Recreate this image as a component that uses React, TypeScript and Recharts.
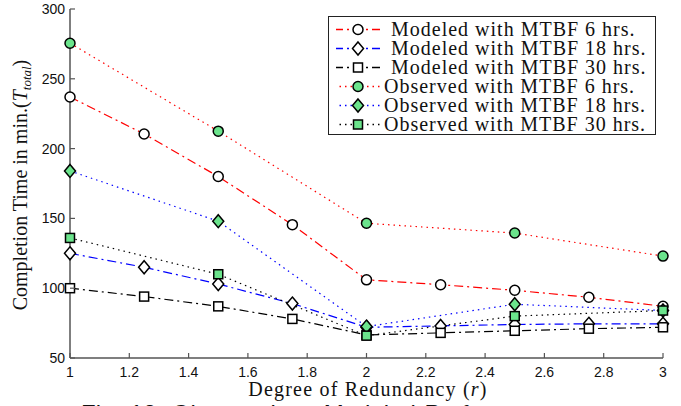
import React from 'react';
import { LineChart, Line, XAxis, YAxis, Legend } from 'recharts';

const xModeled = [1, 1.25, 1.5, 1.75, 2, 2.25, 2.5, 2.75, 3];
const xObserved = [1, 1.5, 2, 2.5, 3];

const modeled6 = [237, 210.5, 180, 145.5, 106, 102.5, 98.5, 93.5, 87];
const modeled18 = [125, 115, 103, 89, 72, 73, 74, 74.5, 74.5];
const modeled30 = [100, 94, 87, 78, 66.5, 68, 69.5, 71, 72];

const observed6 = [275.5, 212.5, 146.5, 139.5, 123];
const observed18 = [184, 148, 72.5, 88.5, 84];
const observed30 = [136, 110, 66, 80, 84];

const xTicks = [1, 1.2, 1.4, 1.6, 1.8, 2, 2.2, 2.4, 2.6, 2.8, 3];
const yTicks = [50, 100, 150, 200, 250, 300];

const GREEN = '#6be48c';
const DASH_DOT = '9 4 2 4';
const DOTTED = '1.5 4';
const SERIF = '"Liberation Serif", "DejaVu Serif", serif';
const SANS = '"Liberation Sans", Arial, sans-serif';

const toRows = (xs: number[], ys: number[]) => xs.map((x, i) => ({ r: x, t: ys[i] }));

type Marker = 'circle' | 'diamond' | 'square';

function markerShape(kind: Marker, cx: number, cy: number, fill: string, key?: string) {
  if (kind === 'circle') {
    return <circle key={key} cx={cx} cy={cy} r={5} fill={fill} stroke="#000" strokeWidth={1.5} />;
  }
  if (kind === 'diamond') {
    const pts = `${cx},${cy - 6.5} ${cx + 5.5},${cy} ${cx},${cy + 6.5} ${cx - 5.5},${cy}`;
    return <polygon key={key} points={pts} fill={fill} stroke="#000" strokeWidth={1.5} />;
  }
  return <rect key={key} x={cx - 4.5} y={cy - 4.5} width={9} height={9} fill={fill} stroke="#000" strokeWidth={1.5} />;
}

const dotRenderer = (kind: Marker, fill: string) => (props: any) => {
  const { cx, cy, index } = props;
  if (cx == null || cy == null) return <g key={`e-${index}`} />;
  return markerShape(kind, cx, cy, fill, `m-${kind}-${fill}-${index}`);
};

const series = [
  { name: 'Modeled with MTBF 6 hrs.', data: toRows(xModeled, modeled6), color: '#ff0000', dash: DASH_DOT, marker: 'circle' as Marker, fill: '#ffffff', indent: 7 },
  { name: 'Modeled with MTBF 18 hrs.', data: toRows(xModeled, modeled18), color: '#0000ff', dash: DASH_DOT, marker: 'diamond' as Marker, fill: '#ffffff', indent: 7 },
  { name: 'Modeled with MTBF 30 hrs.', data: toRows(xModeled, modeled30), color: '#000000', dash: DASH_DOT, marker: 'square' as Marker, fill: '#ffffff', indent: 7 },
  { name: 'Observed with MTBF 6 hrs.', data: toRows(xObserved, observed6), color: '#ff0000', dash: DOTTED, marker: 'circle' as Marker, fill: GREEN, indent: 0 },
  { name: 'Observed with MTBF 18 hrs.', data: toRows(xObserved, observed18), color: '#0000ff', dash: DOTTED, marker: 'diamond' as Marker, fill: GREEN, indent: 0 },
  { name: 'Observed with MTBF 30 hrs.', data: toRows(xObserved, observed30), color: '#000000', dash: DOTTED, marker: 'square' as Marker, fill: GREEN, indent: 0 },
];

const XTick = (props: any) => {
  const { x, y, payload } = props;
  return (
    <g>
      <line x1={x} y1={y} x2={x} y2={y - 5} stroke="#555" strokeWidth={1.2} />
      <text x={x} y={y + 19} textAnchor="middle" style={{ fontFamily: SANS }} fontSize={14} fill="#111">
        {payload.value}
      </text>
    </g>
  );
};

const YTick = (props: any) => {
  const { x, y, payload } = props;
  return (
    <g>
      <line x1={x} y1={y} x2={x + 5} y2={y} stroke="#555" strokeWidth={1.2} />
      <text x={x - 5} y={y + 5} textAnchor="end" style={{ fontFamily: SANS }} fontSize={14} fill="#111">
        {payload.value}
      </text>
    </g>
  );
};

const YLabel = () => (
  <text
    x={27}
    y={185}
    transform="rotate(-90 27 185)"
    textAnchor="middle"
    style={{ fontFamily: SERIF }}
    fontSize={20}
    fill="#111"
  >
    <tspan>Completion Time in min.(</tspan>
    <tspan fontStyle="italic">T</tspan>
    <tspan fontStyle="italic" fontSize={13} dy={4}>total</tspan>
    <tspan dy={-4}>)</tspan>
  </text>
);

const LegendBox = () => (
  <div
    style={{
      width: 328,
      height: 119,
      border: '1.5px solid #222',
      background: '#fff',
      boxSizing: 'border-box',
      paddingTop: 2.5,
    }}
  >
    {series.map(s => (
      <div key={s.name} style={{ display: 'flex', alignItems: 'center', height: 19 }}>
        <svg width={46} height={19} style={{ marginLeft: 6, flex: 'none' }}>
          <line x1={1} y1={9.5} x2={45} y2={9.5} stroke={s.color} strokeWidth={1.3} strokeDasharray={s.dash} strokeDashoffset={2} />
          {markerShape(s.marker, 23, 9.5, s.fill)}
        </svg>
        <span
          style={{
            marginLeft: 3 + s.indent,
            fontFamily: SERIF,
            fontSize: 20,
            letterSpacing: 1,
            lineHeight: '19px',
            color: '#111',
            whiteSpace: 'nowrap',
          }}
        >
          {s.name}
        </span>
      </div>
    ))}
  </div>
);

export default function App() {
  return (
    <div style={{ position: 'absolute', left: 0, top: 0, width: 681, height: 406, overflow: 'hidden', background: '#fff' }}>
      <LineChart width={681} height={406} margin={{ top: 9, right: 18, left: 0, bottom: 0 }}>
        <XAxis
          dataKey="r"
          type="number"
          domain={[1, 3]}
          ticks={xTicks}
          height={48}
          tickSize={0}
          tickMargin={0}
          tick={<XTick />}
          stroke="#555"
          strokeWidth={1.5}
          allowDuplicatedCategory={false}
        />
        <YAxis
          type="number"
          domain={[50, 300]}
          ticks={yTicks}
          width={70}
          tickSize={0}
          tickMargin={0}
          tick={<YTick />}
          stroke="#555"
          strokeWidth={1.5}
          label={<YLabel />}
        />
        <Legend
          layout="horizontal"
          verticalAlign="middle"
          align="center"
          wrapperStyle={{ position: 'absolute', left: 328, top: 16, width: 328 }}
          content={() => <LegendBox />}
        />
        {series.map(s => (
          <Line
            key={s.name}
            data={s.data}
            dataKey="t"
            name={s.name}
            type="linear"
            stroke={s.color}
            strokeWidth={1.2}
            strokeDasharray={s.dash}
            dot={dotRenderer(s.marker, s.fill)}
            activeDot={false}
            isAnimationActive={false}
          />
        ))}
      </LineChart>
      <div
        style={{
          position: 'absolute',
          left: 218,
          top: 379,
          width: 300,
          textAlign: 'center',
          fontFamily: SERIF,
          fontSize: 20,
          lineHeight: '20px',
          letterSpacing: 1.2,
          color: '#111',
          whiteSpace: 'nowrap',
        }}
      >
        Degree of Redundancy (<i>r</i>)
      </div>
      <div
        style={{
          position: 'absolute',
          left: 81,
          top: 402,
          fontFamily: SANS,
          fontSize: 24,
          lineHeight: '24px',
          wordSpacing: 2,
          color: '#111',
          whiteSpace: 'nowrap',
        }}
      >
        Fig. 12: Observed vs. Modeled Performance
      </div>
    </div>
  );
}
